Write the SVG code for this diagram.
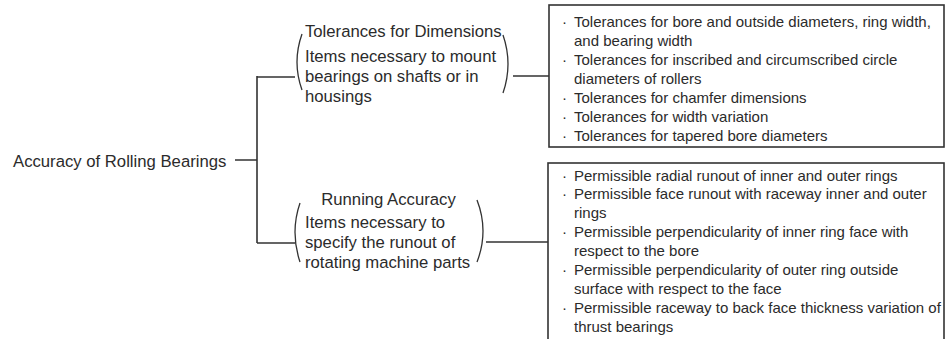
<svg xmlns="http://www.w3.org/2000/svg" width="947" height="339" viewBox="0 0 947 339">
<style>
text{font-family:"Liberation Sans",Arial,sans-serif;fill:#2b2b2b}
.t{font-size:16.7px}
.m{font-size:16.7px}
.b{font-size:15px}
.ln{stroke:#333;stroke-width:1.6;fill:none}
.pr{stroke:#333;stroke-width:1.3;fill:none}
.bx{stroke:#333;stroke-width:1.6;fill:#fff}
</style>
<rect width="947" height="339" fill="#fff"/>
<g id="connectors">
<path class="ln" d="M235 160H257M257 76V243M257 77H295M257 243H295M513 76H549M486 242H548"/>
</g>
<g id="root">
<text class="t" x="13" y="167">Accuracy of Rolling Bearings</text>
</g>
<g id="dimensions">
<path class="pr" d="M302 34Q292 62 302 90"/>
<path class="pr" d="M503 35Q513 64 503 93"/>
<text class="m" x="305" y="37">Tolerances for Dimensions</text>
<text class="m" x="305" y="62">Items necessary to mount</text>
<text class="m" x="305" y="82">bearings on shafts or in</text>
<text class="m" x="305" y="102">housings</text>
</g>
<g id="running">
<path class="pr" d="M300 203Q290 232 300 262"/>
<path class="pr" d="M477 200Q489 231 477 262"/>
<text class="m" x="388.5" y="205" text-anchor="middle">Running Accuracy</text>
<text class="m" x="305" y="228">Items necessary to</text>
<text class="m" x="305" y="248">specify the runout of</text>
<text class="m" x="305" y="268">rotating machine parts</text>
</g>
<g id="dimension-list">
<rect class="bx" x="549" y="5" width="395" height="142"/>
<text class="b" x="562" y="27">·</text>
<text class="b" x="574" y="27">Tolerances for bore and outside diameters, ring width,</text>
<text class="b" x="574" y="46">and bearing width</text>
<text class="b" x="562" y="65">·</text>
<text class="b" x="574" y="65">Tolerances for inscribed and circumscribed circle</text>
<text class="b" x="574" y="84">diameters of rollers</text>
<text class="b" x="562" y="103">·</text>
<text class="b" x="574" y="103">Tolerances for chamfer dimensions</text>
<text class="b" x="562" y="121.7">·</text>
<text class="b" x="574" y="121.7">Tolerances for width variation</text>
<text class="b" x="562" y="140.5">·</text>
<text class="b" x="574" y="140.5">Tolerances for tapered bore diameters</text>
</g>
<g id="running-list">
<rect class="bx" x="548" y="163" width="396" height="190"/>
<text class="b" x="562" y="180.5">·</text>
<text class="b" x="574" y="180.5">Permissible radial runout of inner and outer rings</text>
<text class="b" x="562" y="199.4">·</text>
<text class="b" x="574" y="199.4">Permissible face runout with raceway inner and outer</text>
<text class="b" x="574" y="218.3">rings</text>
<text class="b" x="562" y="237.2">·</text>
<text class="b" x="574" y="237.2">Permissible perpendicularity of inner ring face with</text>
<text class="b" x="574" y="256.1">respect to the bore</text>
<text class="b" x="562" y="275">·</text>
<text class="b" x="574" y="275">Permissible perpendicularity of outer ring outside</text>
<text class="b" x="574" y="293.9">surface with respect to the face</text>
<text class="b" x="562" y="312.8">·</text>
<text class="b" x="574" y="312.8">Permissible raceway to back face thickness variation of</text>
<text class="b" x="574" y="331.7">thrust bearings</text>
</g>
</svg>
